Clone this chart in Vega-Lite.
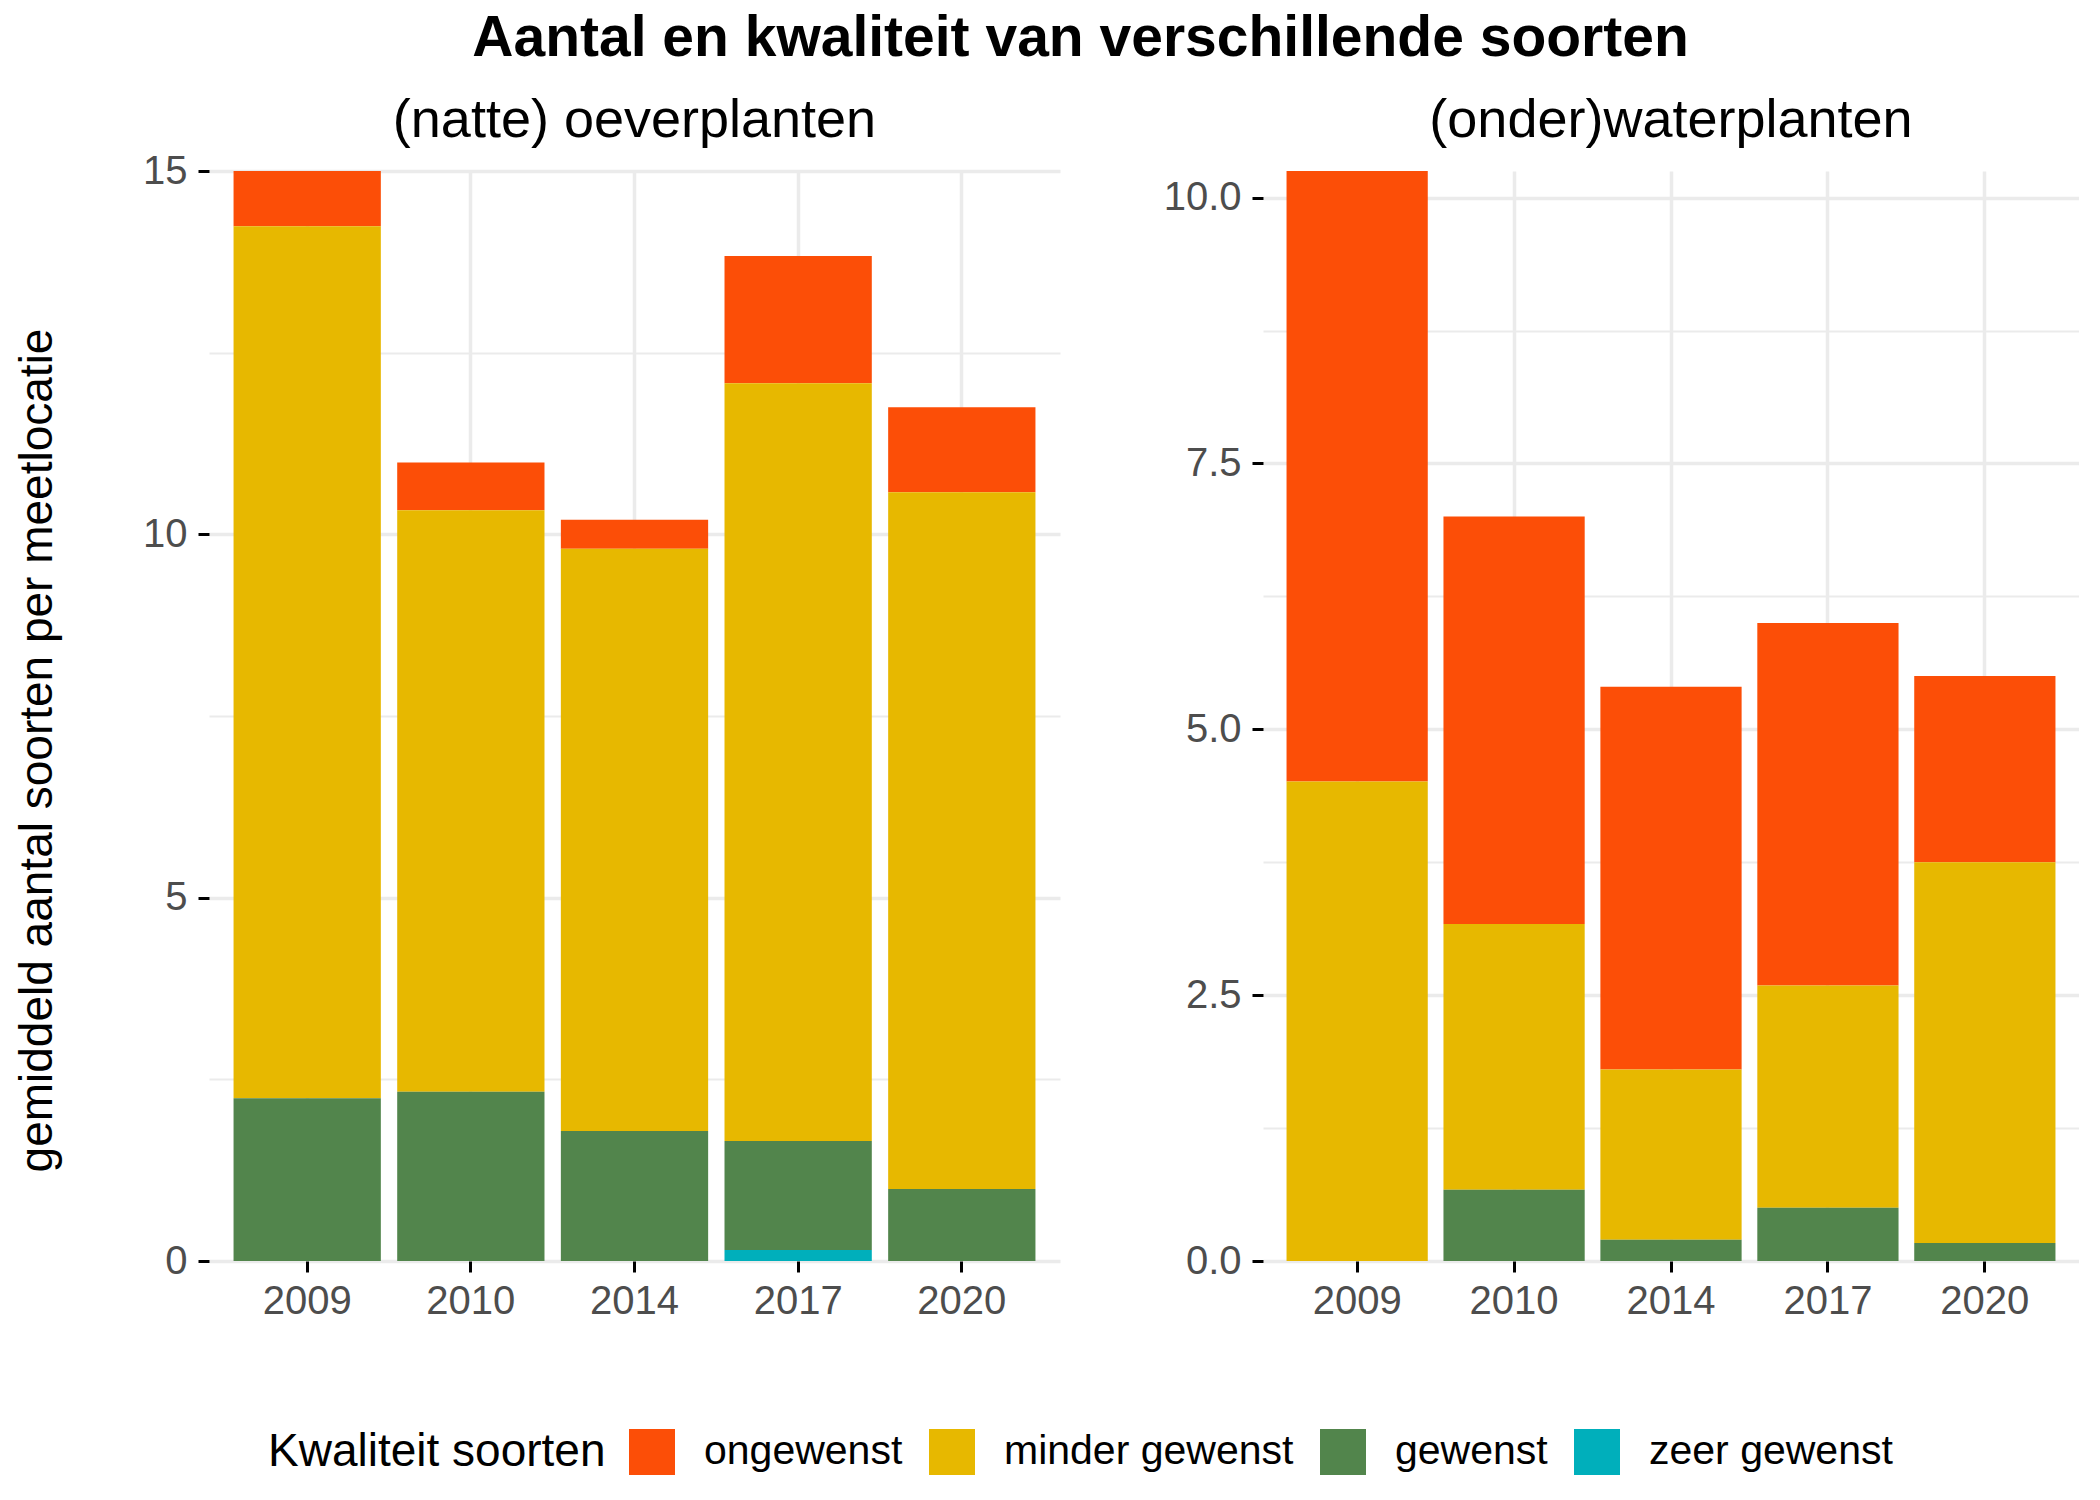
{
  "$schema": "https://vega.github.io/schema/vega-lite/v6.json",
  "background": "white",
  "padding": {"left": 14, "top": 10, "right": 0, "bottom": 0},
  "config": {
    "font": "Liberation Sans",
    "view": {"stroke": null},
    "concat": {"spacing": 103}
  },
  "title": {
    "text": "Aantal en kwaliteit van verschillende soorten",
    "fontSize": 57,
    "fontWeight": "bold",
    "color": "black",
    "anchor": "middle",
    "offset": 26,
    "dx": 34
  },
  "datasets": {
    "oever": [
      {"jaar": "2009", "kwaliteit": "ongewenst", "aantal": 0.76},
      {"jaar": "2009", "kwaliteit": "minder gewenst", "aantal": 12.00},
      {"jaar": "2009", "kwaliteit": "gewenst", "aantal": 2.24},
      {"jaar": "2010", "kwaliteit": "ongewenst", "aantal": 0.66},
      {"jaar": "2010", "kwaliteit": "minder gewenst", "aantal": 8.00},
      {"jaar": "2010", "kwaliteit": "gewenst", "aantal": 2.33},
      {"jaar": "2014", "kwaliteit": "ongewenst", "aantal": 0.40},
      {"jaar": "2014", "kwaliteit": "minder gewenst", "aantal": 8.01},
      {"jaar": "2014", "kwaliteit": "gewenst", "aantal": 1.79},
      {"jaar": "2017", "kwaliteit": "ongewenst", "aantal": 1.75},
      {"jaar": "2017", "kwaliteit": "minder gewenst", "aantal": 10.43},
      {"jaar": "2017", "kwaliteit": "gewenst", "aantal": 1.50},
      {"jaar": "2017", "kwaliteit": "zeer gewenst", "aantal": 0.15},
      {"jaar": "2020", "kwaliteit": "ongewenst", "aantal": 1.17},
      {"jaar": "2020", "kwaliteit": "minder gewenst", "aantal": 9.59},
      {"jaar": "2020", "kwaliteit": "gewenst", "aantal": 0.99}
    ],
    "water": [
      {"jaar": "2009", "kwaliteit": "ongewenst", "aantal": 5.74},
      {"jaar": "2009", "kwaliteit": "minder gewenst", "aantal": 4.51},
      {"jaar": "2010", "kwaliteit": "ongewenst", "aantal": 3.83},
      {"jaar": "2010", "kwaliteit": "minder gewenst", "aantal": 2.50},
      {"jaar": "2010", "kwaliteit": "gewenst", "aantal": 0.67},
      {"jaar": "2014", "kwaliteit": "ongewenst", "aantal": 3.60},
      {"jaar": "2014", "kwaliteit": "minder gewenst", "aantal": 1.60},
      {"jaar": "2014", "kwaliteit": "gewenst", "aantal": 0.20},
      {"jaar": "2017", "kwaliteit": "ongewenst", "aantal": 3.41},
      {"jaar": "2017", "kwaliteit": "minder gewenst", "aantal": 2.09},
      {"jaar": "2017", "kwaliteit": "gewenst", "aantal": 0.50},
      {"jaar": "2020", "kwaliteit": "ongewenst", "aantal": 1.75},
      {"jaar": "2020", "kwaliteit": "minder gewenst", "aantal": 3.58},
      {"jaar": "2020", "kwaliteit": "gewenst", "aantal": 0.17}
    ]
  },
  "hconcat": [
    {
      "data": {"name": "oever"},
      "title": {"text": "(natte) oeverplanten", "fontSize": 54, "fontWeight": "normal", "color": "black", "anchor": "middle", "baseline": "alphabetic", "offset": -40},
      "width": 851,
      "height": 1090,
      "transform": [{"calculate": "indexof(['zeer gewenst','gewenst','minder gewenst','ongewenst'], datum.kwaliteit)", "as": "volgorde"}],
      "mark": {"type": "bar"},
      "encoding": {
        "x": {
          "field": "jaar", "type": "ordinal",
          "scale": {"paddingInner": 0.1, "paddingOuter": 0.15},
          "axis": {"title": null, "labelAngle": 0, "labelFontSize": 40, "labelColor": "#4D4D4D", "labelPadding": 9, "domain": false, "ticks": true, "tickColor": "black", "tickWidth": 3, "tickSize": 11, "grid": true, "gridColor": "#EBEBEB", "gridWidth": 3.5, "bandPosition": 0.5}
        },
        "y": {
          "field": "aantal", "type": "quantitative", "stack": "zero",
          "scale": {"domain": [0, 15], "nice": false},
          "axis": {
            "title": "gemiddeld aantal soorten per meetlocatie",
            "titleFontSize": 46, "titleFontWeight": "normal", "titleColor": "black",
            "titleX": -172, "titleY": 579, "titleAngle": 270, "titleAlign": "center", "titleBaseline": "middle",
            "values": [0, 2.5, 5, 7.5, 10, 12.5, 15],
            "labelExpr": "datum.value % 5 === 0 ? datum.label : ''",
            "labelFontSize": 40, "labelColor": "#4D4D4D", "labelPadding": 11,
            "domain": false, "tickColor": "black", "tickWidth": 3, "tickSize": 11,
            "tickOpacity": {"condition": {"test": "datum.value % 5 !== 0", "value": 0}, "value": 1},
            "gridColor": "#EBEBEB",
            "gridWidth": {"condition": {"test": "datum.value % 5 !== 0", "value": 2}, "value": 3.5}
          }
        },
        "color": {
          "field": "kwaliteit", "type": "nominal",
          "scale": {"domain": ["ongewenst", "minder gewenst", "gewenst", "zeer gewenst"], "range": ["#FC4E07", "#E7B800", "#52854C", "#00AFBB"]},
          "legend": {
            "title": "Kwaliteit soorten", "orient": "none", "legendX": 59, "legendY": 1258,
            "direction": "horizontal", "titleOrient": "left", "titleFontSize": 46, "titleFontWeight": "normal", "titleColor": "black", "titlePadding": 23, "titleLimit": 600,
            "symbolType": "square", "symbolSize": 2116, "symbolStrokeWidth": 0, "symbolOpacity": 1,
            "labelFontSize": 41, "labelColor": "black", "labelOffset": 29, "labelLimit": 500, "columnPadding": 26
          }
        },
        "order": {"field": "volgorde", "type": "quantitative", "sort": "ascending"}
      }
    },
    {
      "data": {"name": "water"},
      "title": {"text": "(onder)waterplanten", "fontSize": 54, "fontWeight": "normal", "color": "black", "anchor": "middle", "baseline": "alphabetic", "offset": -20},
      "width": 816,
      "height": 1090,
      "transform": [{"calculate": "indexof(['zeer gewenst','gewenst','minder gewenst','ongewenst'], datum.kwaliteit)", "as": "volgorde"}],
      "mark": {"type": "bar"},
      "encoding": {
        "x": {
          "field": "jaar", "type": "ordinal",
          "scale": {"paddingInner": 0.1, "paddingOuter": 0.15},
          "axis": {"title": null, "labelAngle": 0, "labelFontSize": 40, "labelColor": "#4D4D4D", "labelPadding": 9, "domain": false, "ticks": true, "tickColor": "black", "tickWidth": 3, "tickSize": 11, "grid": true, "gridColor": "#EBEBEB", "gridWidth": 3.5, "bandPosition": 0.5}
        },
        "y": {
          "field": "aantal", "type": "quantitative", "stack": "zero",
          "scale": {"domain": [0, 10.25], "nice": false},
          "axis": {
            "title": null,
            "values": [0, 1.25, 2.5, 3.75, 5, 6.25, 7.5, 8.75, 10],
            "format": ".1f",
            "labelExpr": "datum.value % 2.5 === 0 ? datum.label : ''",
            "labelFontSize": 40, "labelColor": "#4D4D4D", "labelPadding": 11,
            "domain": false, "tickColor": "black", "tickWidth": 3, "tickSize": 11,
            "tickOpacity": {"condition": {"test": "datum.value % 2.5 !== 0", "value": 0}, "value": 1},
            "gridColor": "#EBEBEB",
            "gridWidth": {"condition": {"test": "datum.value % 2.5 !== 0", "value": 2}, "value": 3.5}
          }
        },
        "color": {
          "field": "kwaliteit", "type": "nominal",
          "scale": {"domain": ["ongewenst", "minder gewenst", "gewenst", "zeer gewenst"], "range": ["#FC4E07", "#E7B800", "#52854C", "#00AFBB"]}
        },
        "order": {"field": "volgorde", "type": "quantitative", "sort": "ascending"}
      }
    }
  ],
  "resolve": {"scale": {"color": "shared", "y": "independent"}}
}
